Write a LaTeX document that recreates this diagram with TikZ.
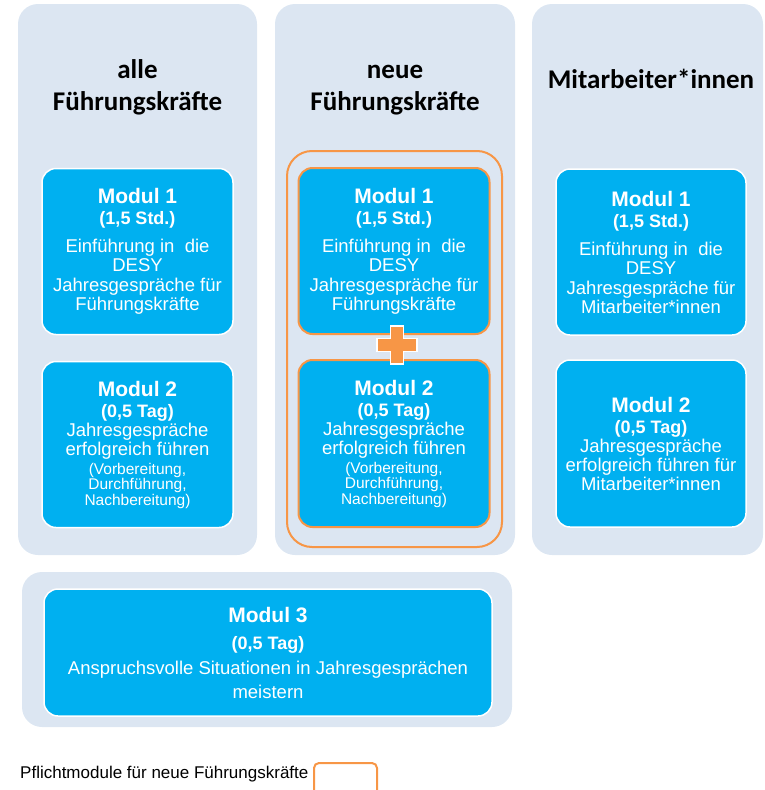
\documentclass[tikz,border=0pt]{standalone}
\usepackage{fontspec}
\setmainfont{Liberation Sans}
\newfontfamily\headfont{Carlito}
\definecolor{colbg}{HTML}{DCE6F2}
\definecolor{modfill}{HTML}{00B0F0}
\definecolor{orangeline}{HTML}{F79646}
\newcommand\mtitle[1]{{\fontsize{21}{21}\selectfont\bfseries #1}}
\newcommand\msub[1]{{\fontsize{18}{18}\selectfont\bfseries #1}}
\newcommand\msmall[1]{{\fontsize{15.5}{15.5}\selectfont #1}}
\tikzset{
  colpanel/.style={fill=colbg, draw=none, rounded corners=20pt},
  modbox/.style={draw=white, line width=1.5pt, fill=modfill, rounded corners=14pt,
    align=center, text=white, font=\fontsize{18.5}{20}\selectfont, inner sep=0pt,
    minimum width=191pt, minimum height=166pt},
  modnew/.style={modbox, draw=orangeline, line width=2pt},
  headtext/.style={anchor=base, font=\headfont\bfseries\fontsize{27}{31}\selectfont, text=black, inner sep=0pt},
  pflicht/.style={draw=orangeline, line width=2pt}
}
\begin{document}
\begin{tikzpicture}[x=1pt, y=-1pt]
\useasboundingbox (0,0) rectangle (764,790);
% column panels
\path[colpanel] (18,4) rectangle (257,555);
\path[colpanel] (275,4) rectangle (515,555);
\path[colpanel] (532,4) rectangle (763,555);
\path[colpanel] (22,572) rectangle (512,727);
% headings
\node[headtext] (h1a) at (137.5,78) {alle};
\node[headtext] (h1b) at (137.5,110) {Führungskräfte};
\node[headtext] (h2a) at (395,78) {neue};
\node[headtext] (h2b) at (395,110) {Führungskräfte};
\node[headtext] (h3) at (651,88) {Mitarbeiter*innen};
% mandatory frame
\draw[pflicht, rounded corners=25pt] (287,151) rectangle (502,547);
% column 1
\node[modbox] (c1m1) at (137.5,251.5) {\mtitle{Modul 1}\\[1pt]\msub{(1,5 Std.)}\\[8pt]Einführung in\ \ die\\[-1pt]DESY\\Jahresgespräche für\\[-1pt]Führungskräfte};
\node[modbox] (c1m2) at (137.5,444.5) {\mtitle{Modul 2}\\[1pt]\msub{(0,5 Tag)}\\[-1pt]Jahresgespräche\\[-1pt]erfolgreich führen\\[-1pt]\msmall{(Vorbereitung,}\\[-4.5pt]\msmall{Durchführung,}\\[-4.5pt]\msmall{Nachbereitung)}};
% column 2
\node[modnew] (c2m1) at (394,251) {\mtitle{Modul 1}\\[1pt]\msub{(1,5 Std.)}\\[8pt]Einführung in\ \ die\\[-1pt]DESY\\Jahresgespräche für\\[-1pt]Führungskräfte};
\node[modnew, minimum height=167pt] (c2m2) at (394,443.5) {\mtitle{Modul 2}\\[1pt]\msub{(0,5 Tag)}\\[-1pt]Jahresgespräche\\[-1pt]erfolgreich führen\\[-1pt]\msmall{(Vorbereitung,}\\[-4.5pt]\msmall{Durchführung,}\\[-4.5pt]\msmall{Nachbereitung)}};
% plus sign
\draw[white, line width=1.5pt, fill=orangeline]
  (390.5,326) -- (403.5,326) -- (403.5,338.5) -- (417,338.5) -- (417,351.5) -- (403.5,351.5)
  -- (403.5,364) -- (390.5,364) -- (390.5,351.5) -- (377,351.5) -- (377,338.5) -- (390.5,338.5) -- cycle;
% column 3
\node[modbox, minimum width=190pt] (c3m1) at (651,252) {\mtitle{Modul 1}\\[1pt]\msub{(1,5 Std.)}\\[8pt]Einführung in\ \ die\\[-1pt]DESY\\Jahresgespräche für\\[-1pt]Mitarbeiter*innen};
\node[modbox, minimum width=190pt, minimum height=167pt] (c3m2) at (651,443.5) {\mtitle{Modul 2}\\[1pt]\msub{(0,5 Tag)}\\[-1pt]Jahresgespräche\\[-1pt]erfolgreich führen für\\[-1pt]Mitarbeiter*innen};
% module 3
\node[modbox, minimum width=448pt, minimum height=127pt] (m3) at (268,652.5) {\mtitle{Modul 3}\\[7pt]\msub{(0,5 Tag)}\\[5pt]Anspruchsvolle Situationen in Jahresgesprächen\\[4pt]meistern};
% legend
\node[anchor=base west, inner sep=0pt, font=\fontsize{17}{20}\selectfont] (leg) at (20,778) {Pflichtmodule für neue Führungskräfte};
\draw[pflicht, rounded corners=5pt] (314,790) -- (314,763) -- (377,763) -- (377,790);
\end{tikzpicture}
\end{document}
